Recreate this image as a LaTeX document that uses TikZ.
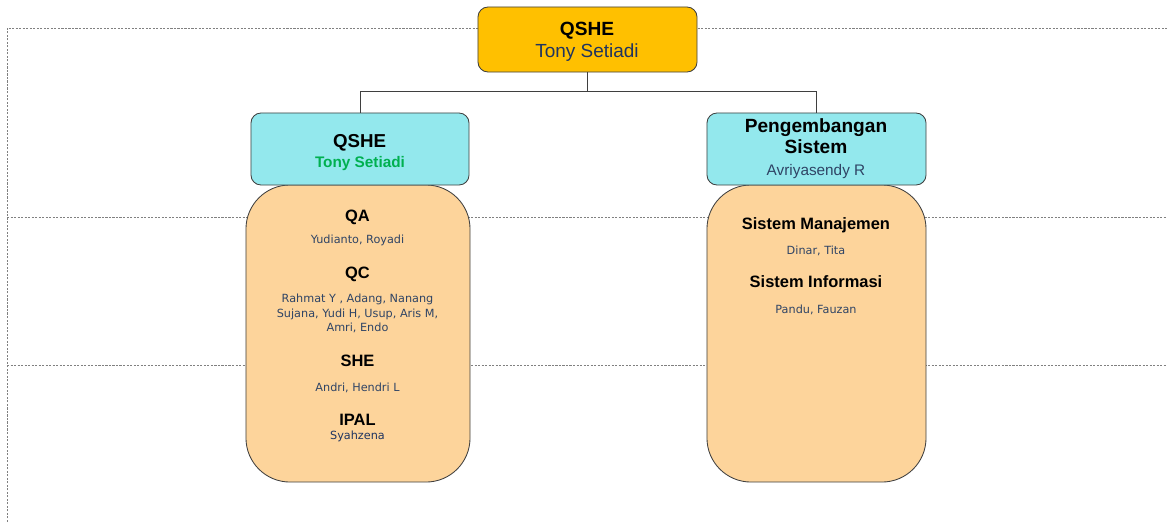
\documentclass[tikz,border=0pt]{standalone}
\usepackage{fontspec}
\setmainfont{Liberation Sans}
\newfontfamily\namefont{DejaVu Sans}
\usetikzlibrary{positioning}
\definecolor{qsheyellow}{HTML}{FFC000}
\definecolor{unitcyan}{HTML}{93E8ED}
\definecolor{bodyorange}{HTML}{FDD49B}
\definecolor{namenavy}{HTML}{2F4465}
\definecolor{topnavy}{HTML}{1F3460}
\definecolor{namegreen}{HTML}{00B050}
\definecolor{gridgray}{HTML}{808080}
\definecolor{edgegray}{HTML}{3F3F3F}

\begin{document}
\begin{tikzpicture}[x=0.025cm, y=-0.025cm,
    box/.style={draw=edgegray, line width=0.6pt, inner sep=0pt},
    headbox/.style={box, rounded corners=0.25cm, fill=unitcyan, minimum width=5.45cm, minimum height=1.8cm},
    bodybox/.style={box, rounded corners=1.1cm, fill=bodyorange, minimum height=7.425cm},
    title/.style={anchor=base, inner sep=0pt, font=\bfseries\fontsize{13.6pt}{16pt}\selectfont},
    unit/.style={anchor=base, inner sep=0pt, font=\bfseries\fontsize{11.7pt}{13pt}\selectfont},
    names/.style={anchor=base, inner sep=0pt, text=namenavy, font=\namefont\fontsize{8pt}{10.7pt}\selectfont},
    gridline/.style={gridgray, line width=0.5pt, dash pattern=on 1.5pt off 1pt}]
    \useasboundingbox (0,0) rectangle (1167,522);

    \coordinate (gtl) at (7,28);
    \coordinate (gbl) at (7,522);
    \coordinate (gtr) at (1167,28);
    \coordinate (gml) at (7,217);
    \coordinate (gmr) at (1167,217);
    \coordinate (glo) at (7,365);
    \coordinate (glr) at (1167,365);
    \draw[gridline] (gbl) -- (gtl) -- (gtr);
    \draw[gridline] (gml) -- (gmr);
    \draw[gridline] (glo) -- (glr);

    \node[box, rounded corners=0.25cm, fill=qsheyellow, minimum width=5.475cm, minimum height=1.625cm] (top) at (587.5,39.5) {};
    \node[title] (toptitle) at (587,35) {QSHE};
    \node[anchor=base, inner sep=0pt, text=topnavy, font=\fontsize{13.5pt}{16pt}\selectfont] (topname) at (587,57) {Tony Setiadi};

    \node[bodybox, minimum width=5.6cm] (lbody) at (358,333.5) {};
    \node[bodybox, minimum width=5.475cm] (rbody) at (816.5,333.5) {};
    \node[headbox] (lhead) at (360,149) {};
    \node[headbox, minimum width=5.475cm] (rhead) at (816.5,149) {};

    \path (top.south) ++(0,19) coordinate (bus);
    \draw[edgegray, line width=0.6pt] (top.south) -- (bus) -| (lhead.north);
    \draw[edgegray, line width=0.6pt] (bus) -| (rhead.north);

    \node[title, font=\bfseries\fontsize{13.3pt}{16pt}\selectfont] (ltitle) at (359.5,147) {QSHE};
    \node[anchor=base, inner sep=0pt, text=namegreen, font=\bfseries\fontsize{10.9pt}{13pt}\selectfont] (lname) at (360,167) {Tony Setiadi};
    \node[title] (rtitle1) at (816,132) {Pengembangan};
    \node[title] (rtitle2) at (816,153) {Sistem};
    \node[anchor=base, inner sep=0pt, text=namenavy, font=\fontsize{10.9pt}{13pt}\selectfont] (rname) at (816,175) {Avriyasendy R};

    \node[unit] (qa) at (357.5,221) {QA};
    \node[names] (qanames) at (357.5,243) {Yudianto, Royadi};
    \node[unit] (qc) at (357.5,278) {QC};
    \node[names] (qcnames1) at (357.5,302) {Rahmat Y , Adang, Nanang};
    \node[names] (qcnames2) at (357.5,317) {Sujana, Yudi H, Usup, Aris M,};
    \node[names] (qcnames3) at (357.5,331) {Amri, Endo};
    \node[unit] (she) at (357.5,366) {SHE};
    \node[names] (shenames) at (357.5,391) {Andri, Hendri L};
    \node[unit] (ipal) at (357.5,425) {IPAL};
    \node[names, text=topnavy] (ipalnames) at (357.5,439) {Syahzena};

    \node[unit] (sm) at (816,229) {Sistem Manajemen};
    \node[names] (smnames) at (816,254) {Dinar, Tita};
    \node[unit] (si) at (816,287) {Sistem Informasi};
    \node[names] (sinames) at (816,313) {Pandu, Fauzan};
\end{tikzpicture}
\end{document}
